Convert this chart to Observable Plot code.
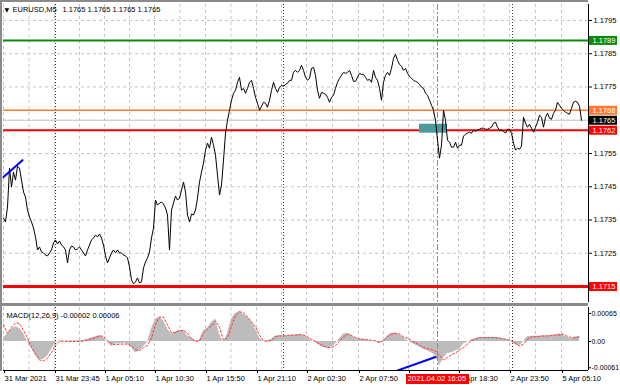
<!DOCTYPE html>
<html><head><meta charset="utf-8">
<script src="https://cdn.jsdelivr.net/npm/d3@7"></script>
<script src="https://cdn.jsdelivr.net/npm/@observablehq/plot@0.6"></script>
<style>
html,body{margin:0;padding:0;background:#fff;}
#chart{position:relative;width:620px;height:388px;overflow:hidden;font-family:"Liberation Sans",Arial,sans-serif;background:#fff;}
#chart svg{position:absolute;left:0;}
.bar{position:absolute;background:#8a8a8a;}
.tag{position:absolute;background:#ff0000;color:#fff;font-size:7.5px;text-align:center;white-space:nowrap;}
</style></head><body><div id="chart"></div>
<script>
// ---------- data ----------
const symbol = "EURUSD,M5";
const ohlc = ["1.1765", "1.1765", "1.1765", "1.1765"];
const close = [
1.17356,1.17344,1.17389,1.17506,1.17449,1.17494,1.17470,1.17512,1.17506,1.17470,
1.17434,1.17419,1.17380,1.17359,1.17344,1.17326,1.17299,1.17260,1.17269,1.17254,
1.17251,1.17245,1.17242,1.17251,1.17260,1.17281,1.17290,1.17278,1.17287,1.17275,
1.17269,1.17260,1.17221,1.17260,1.17272,1.17269,1.17260,1.17263,1.17269,1.17260,
1.17251,1.17242,1.17260,1.17275,1.17290,1.17296,1.17305,1.17299,1.17308,1.17296,
1.17275,1.17242,1.17221,1.17236,1.17251,1.17260,1.17251,1.17260,1.17251,
1.17251,1.17245,1.17242,1.17236,1.17209,1.17170,1.17158,1.17164,1.17176,1.17161,
1.17164,1.17206,1.17224,1.17236,1.17254,1.17296,1.17326,1.17410,1.17395,1.17401,
1.17404,1.17398,1.17386,1.17365,1.17260,1.17380,1.17401,1.17422,1.17410,1.17416,
1.17440,1.17464,1.17434,1.17365,1.17344,1.17368,1.17365,1.17380,1.17416,1.17464,
1.17494,1.17521,1.17560,1.17581,1.17566,1.17599,1.17575,1.17545,1.17485,1.17425,
1.17455,1.17530,1.17611,1.17650,1.17680,1.17710,1.17731,1.17740,1.17764,1.17779,
1.17740,1.17746,1.17731,1.17746,1.17764,1.17770,1.17746,1.17719,1.17701,1.17680,
1.17692,1.17704,1.17701,1.17689,1.17710,1.17740,1.17764,1.17746,1.17734,1.17749,
1.17755,1.17752,1.17758,1.17761,1.17770,1.17770,1.17794,1.17800,1.17794,1.17800,
1.17815,1.17800,1.17779,1.17770,1.17776,1.17806,1.17809,1.17785,1.17740,1.17716,
1.17734,1.17731,1.17728,1.17719,1.17704,1.17719,1.17725,1.17746,1.17764,1.17776,
1.17785,1.17794,1.17791,1.17794,1.17800,1.17785,1.17767,1.17767,1.17779,1.17791,
1.17788,1.17788,1.17779,1.17770,1.17773,1.17764,1.17800,1.17779,1.17770,1.17746,
1.17710,1.17764,1.17785,1.17794,1.17785,1.17806,1.17836,1.17848,1.17830,1.17818,
1.17812,1.17800,1.17806,1.17791,1.17782,1.17776,1.17770,1.17767,1.17764,1.17758,
1.17749,1.17746,1.17731,1.17725,1.17710,1.17695,1.17680,1.17650,1.17590,1.17536,
1.17575,1.17680,1.17650,1.17590,1.17584,1.17569,1.17569,1.17584,1.17566,1.17575,
1.17575,1.17602,1.17608,1.17611,1.17614,1.17611,1.17620,1.17617,1.17620,1.17623,
1.17626,1.17626,1.17623,1.17623,1.17626,1.17629,1.17641,1.17644,1.17629,1.17620,
1.17620,1.17617,1.17611,1.17623,1.17623,1.17611,1.17581,1.17560,1.17566,1.17563,
1.17572,1.17659,1.17641,1.17629,1.17638,1.17626,1.17614,1.17629,1.17644,1.17665,
1.17659,1.17629,1.17659,1.17671,1.17656,1.17653,1.17671,1.17680,1.17704,1.17695,
1.17686,1.17680,1.17674,1.17671,1.17668,1.17686,1.17704,1.17707,1.17704,1.17692,
1.17650
];
const macdName = "MACD(12,26,9)";
const macdLast = ["-0.00002", "0.00006"];
const macdMain = [
0.00009,0.00017,0.00029,0.00034,0.00031,0.00019,0,-0.00015,-0.00032,-0.00043,
-0.00042,-0.00034,-0.00018,-0.00003,0.00002,0,0.00001,0.00002,0.00001,0.00002,
0.00003,0.00005,0.00008,0.00011,0.00014,0.00009,-0.00002,-0.00012,-0.00006,-0.00005,
-0.00004,-0.00005,-0.00014,-0.00026,-0.00022,-0.00012,-0.00002,0.00029,0.00052,0.00056,
0.00048,0.00029,0.00017,0.00022,0.00025,0.00026,0.00013,0.00008,0.00002,0.00002,
0.00025,0.00031,0.00044,0.00052,0.00017,-0.00002,0.00017,0.00052,0.00065,0.00069,
0.00063,0.00056,0.00046,0.00029,0.00008,0,0.00002,0.00005,0.00013,0.00014,
0.00013,0.00013,0.00014,0.00015,0.00017,0.00014,0.00009,0.00002,-0.00002,-0.00009,
-0.00014,-0.00015,-0.00013,-0.00006,0.00007,0.00017,0.00019,0.00014,0.00007,0.00005,
0.00005,0.00003,0.00001,0,-0.00005,0.00002,0.00013,0.00019,0.00020,0.00015,
0.00009,0.00002,-0.00004,-0.00008,-0.00013,-0.00018,-0.00022,-0.00026,-0.00033,-0.00057,
-0.00039,-0.00028,-0.00026,-0.00022,-0.00018,-0.00006,-0.00002,0.00004,0.00007,0.00009,
0.00009,0.00009,0.00009,0.00009,0.00008,0.00006,0.00004,0,-0.00008,-0.00011,
0,0.00011,0.00012,0.00012,0.00012,0.00013,0.00013,0.00014,0.00015,0.00018,
0.00014,0.00009,0.00006,0.00011,0.00012
];
const macdSignal = [
0.00039,0.00019,0.00033,0.00043,0.00042,0.00026,0.00008,-0.00014,-0.00029,-0.00043,
-0.00045,-0.00039,-0.00026,-0.00008,0,0.00001,0,0,0,0,
0.00001,0.00003,0.00006,0.00009,0.00013,0.00012,0.00003,-0.00005,-0.00008,-0.00006,
-0.00006,-0.00006,-0.00011,-0.00019,-0.00021,-0.00014,-0.00009,0.00008,0.00040,0.00057,
0.00056,0.00039,0.00020,0.00021,0.00025,0.00026,0.00019,0.00007,0,0.00002,
0.00019,0.00029,0.00036,0.00048,0.00033,0.00003,0.00009,0.00036,0.00060,0.00069,
0.00067,0.00057,0.00046,0.00034,0.00015,0.00002,0,0.00003,0.00011,0.00013,
0.00013,0.00014,0.00015,0.00015,0.00016,0.00015,0.00011,0.00005,0,-0.00006,
-0.00011,-0.00014,-0.00014,-0.00009,0,0.00011,0.00017,0.00014,0.00009,0.00006,
0.00005,0.00004,0.00003,0.00002,-0.00002,0.00002,0.00011,0.00017,0.00019,0.00017,
0.00011,0.00008,0.00002,-0.00003,-0.00009,-0.00014,-0.00016,-0.00019,-0.00022,-0.00033,
-0.00043,-0.00037,-0.00031,-0.00027,-0.00019,-0.00014,-0.00006,0.00002,0.00005,0.00009,
0.00009,0.00009,0.00009,0.00009,0.00008,0.00006,0.00004,0.00001,-0.00004,-0.00011,
-0.00006,0.00005,0.00011,0.00011,0.00012,0.00013,0.00013,0.00014,0.00015,0.00015,
0.00017,0.00012,0.00009,0.00008,0.00011
];
const priceTicks = [1.1795, 1.1785, 1.1775, 1.1765, 1.1755, 1.1745, 1.1735, 1.1725, 1.1715];
const priceTickLabels = [1.1795, 1.1785, 1.1775, 1.1755, 1.1745, 1.1735, 1.1725];
const macdTicks = [0.00065, 0, -0.00061];
const levels = [1.1789, 1.1768, 1.1765, 1.1762, 1.1715];
const timeTicks = [0, 25.5, 50.5, 75.5, 101, 126.5, 151.5, 177.5, 202.5, 227.5, 253, 279];
// the label at 202.5 is hidden under the red time tag in the reference
const timeLabels = ["31 Mar 2021", "31 Mar 23:45", "1 Apr 05:10", "1 Apr 10:30", "1 Apr 15:50", "1 Apr 21:10",
  "2 Apr 02:30", "2 Apr 07:50", "", "2 Apr 18:30", "2 Apr 23:50", "5 Apr 05:10"];
const daySeparators = [26, 140, 254.5];
const markerBar = 217;
const markerLabel = "2021.04.02 16:05";
const trendPriceBars = [0, 9.5];
const trendPriceValues = [1.17479, 1.17530];
const trendMacdBars = [196, 216];
const trendMacdValues = [-0.00069, -0.00036];
const zoneBars = [208, 222];
const zoneValues = [1.17611, 1.17638];

// ---------- styles ----------
const xDomain = [0, 292.5];
const xMax = xDomain[1];
const font = "'Liberation Sans', Arial, sans-serif";
const baseStyle = {fontFamily: font, fontSize: "7.5px", background: "transparent", overflow: "visible", color: "#000"};
const lvlStyle = [
  {color: "#0c8a0c", width: 2, box: "#0c8a0c"},
  {color: "#ff7a30", width: 1.5, box: "#ff7a30"},
  {color: "#c8c8c8", width: 1, box: "#000000"},
  {color: "#ff0000", width: 2, box: "#ff0000"},
  {color: "#ff0000", width: 3, box: "#ff0000"}
];
const gridColor = "#c4c4c4";
const gridBars = timeTicks.flatMap((t, i) => i < timeTicks.length - 1 ? [t, (t + timeTicks[i + 1]) / 2] : [t]);

const main = Plot.plot({
  width: 620, height: 303,
  marginLeft: 3, marginRight: 32, marginTop: 4, marginBottom: 1,
  x: {domain: xDomain, axis: null},
  y: {domain: [1.17102, 1.17998]},
  style: baseStyle,
  marks: [
    Plot.ruleY(priceTicks, {stroke: gridColor, strokeDasharray: "3,3"}),
    Plot.ruleX(gridBars, {stroke: gridColor, strokeDasharray: "3,3"}),
    Plot.ruleX(daySeparators, {stroke: "#333", strokeDasharray: "1,2"}),
    Plot.ruleX([markerBar], {stroke: "#f26060", strokeDasharray: "6,2,2,2"}),
    ...levels.map((v, i) => Plot.ruleY([v], {stroke: lvlStyle[i].color, strokeWidth: lvlStyle[i].width})),
    Plot.rect([0], {x1: zoneBars[0], x2: zoneBars[1], y1: zoneValues[0], y2: zoneValues[1], fill: "#4b9b9b"}),
    Plot.line(close, {x: (d, i) => i, y: d => d, stroke: "#000", strokeWidth: 1}),
    Plot.line(trendPriceBars, {x: d => d, y: (d, i) => trendPriceValues[i], stroke: "#0000ff", strokeWidth: 2}),
    Plot.ruleX([xMax], {stroke: "#000"}),
    Plot.axisY(priceTickLabels, {anchor: "right", tickSize: 3, tickPadding: 2, tickFormat: d => d.toFixed(4), label: null}),
    ...levels.map((v, i) => Plot.ruleY([v], {x1: xMax + 0.5, x2: xMax + 14.5, stroke: lvlStyle[i].box, strokeWidth: 9})),
    Plot.text(levels, {x: xMax, y: d => d, text: d => d.toFixed(4), dx: 4, textAnchor: "start", fill: "#fff"}),
    Plot.text(["\u25BC"], {frameAnchor: "top-left", dx: 1, dy: 3, lineAnchor: "top", textAnchor: "start", fontSize: 6, fontFamily: "DejaVu Sans"}),
    Plot.text([symbol], {frameAnchor: "top-left", dx: 9, dy: 2, lineAnchor: "top", textAnchor: "start"}),
    Plot.text([ohlc.join(" ")], {frameAnchor: "top-left", dx: 59, dy: 2, lineAnchor: "top", textAnchor: "start"})
  ]
});

const macdDomain = [-0.000673, 0.000789];
const macd = Plot.plot({
  width: 620, height: 82,
  marginLeft: 3, marginRight: 32, marginTop: 1, marginBottom: 18,
  x: {domain: xDomain},
  y: {domain: macdDomain},
  style: baseStyle,
  marks: [
    Plot.ruleX(gridBars, {stroke: gridColor, strokeDasharray: "3,3"}),
    Plot.ruleX(daySeparators, {stroke: "#333", strokeDasharray: "1,2"}),
    Plot.areaY(macdMain, {x: (d, i) => 2 * i, y1: 0, y2: d => d, fill: "#bcbcbc"}),
    Plot.line(macdSignal, {x: (d, i) => 2 * i, y: d => d, stroke: "#ff3333", strokeDasharray: "2,2", strokeWidth: 1}),
    Plot.ruleX([markerBar], {stroke: "#f26060", strokeDasharray: "6,2,2,2"}),
    Plot.line(trendMacdBars, {x: d => d, y: (d, i) => trendMacdValues[i], stroke: "#0000ff", strokeWidth: 2, clip: true}),
    Plot.ruleY([macdDomain[0]], {stroke: "#000"}),
    Plot.ruleX([xMax], {stroke: "#000"}),
    Plot.axisY(macdTicks, {anchor: "right", tickSize: 2, tickPadding: 1, fontSize: 7,
      tickFormat: d => d === 0 ? "0.00" : d.toFixed(5), label: null}),
    Plot.axisX(timeTicks, {anchor: "bottom", tickSize: 3, tickPadding: 2, textAnchor: "start", dx: 1,
      tickFormat: d => timeLabels[timeTicks.indexOf(d)], label: null}),
    Plot.text([macdName + " " + macdLast.join(" ")], {frameAnchor: "top-left", dx: 3, dy: 5, lineAnchor: "top", textAnchor: "start"})
  ]
});

const root = document.getElementById("chart");
main.style.top = "0px";
macd.style.top = "306px";
root.appendChild(main);
root.appendChild(macd);

function bar(l, t, w, h) {
  const d = document.createElement("div");
  d.className = "bar";
  Object.assign(d.style, {left: l + "px", top: t + "px", width: w + "px", height: h + "px"});
  root.appendChild(d);
}
bar(0, 0, 2, 371);
bar(0, 0, 588, 2);
bar(0, 303, 588, 3);

const cx = macd.scale("x").apply(markerBar);
const tag = document.createElement("div");
tag.className = "tag";
tag.textContent = markerLabel;
Object.assign(tag.style, {left: (cx - 31.5) + "px", top: "374px", width: "63px", height: "10px", lineHeight: "10px"});
root.appendChild(tag);
</script>
</body></html>
